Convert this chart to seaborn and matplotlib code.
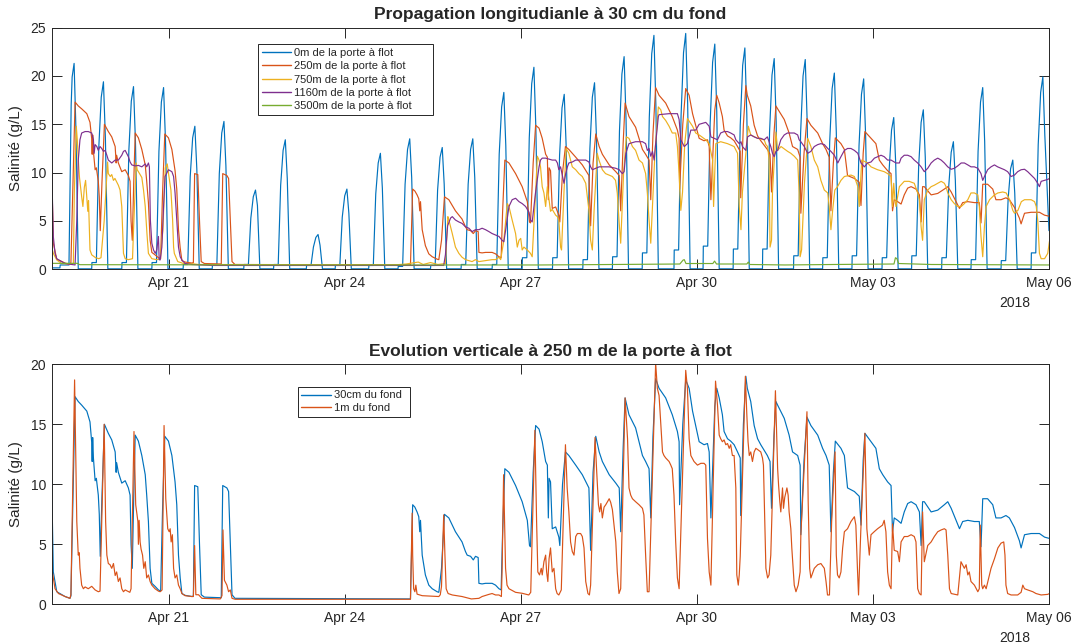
import pandas as pd
import numpy as np
import matplotlib
matplotlib.use('Agg')
import matplotlib.pyplot as plt
import matplotlib.dates as mdates
import seaborn as sns

# temps en heures depuis le 19/04/2018 00:00, salinité en g/L
debut = pd.Timestamp('2018-04-19')

# 1. Propagation longitudinale (30 cm du fond)
sal_0m = [
    (0, 0.15), (3.4, 0.15), (3.5, 0.45), (7.1, 0.45), (8.0, 17.0), (8.4, 19.9), (9.2, 21.3), (10.0, 14.0), (10.9, 0.05),
    (16.4, 0.05), (16.5, 0.7), (18.3, 0.7), (19.3, 12.6), (20.3, 17.8), (21.2, 19.4), (22.0, 13.6), (23.0, 0.05),
    (28.7, 0.05), (28.8, 0.7), (30.6, 0.7), (31.6, 12.3), (32.6, 17.4), (33.5, 18.9), (34.3, 13.2), (35.3, 0.05),
    (41.0, 0.05), (41.1, 0.7), (42.9, 0.7), (43.9, 12.2), (44.9, 17.3), (45.8, 18.8), (46.6, 13.2), (47.6, 0.05),
    (53.8, 0.05), (53.9, 0.5), (55.7, 0.5), (56.7, 9.6), (57.7, 13.6), (58.6, 14.8), (59.4, 10.4), (60.4, 0.05),
    (65.7, 0.05), (65.8, 0.5), (67.6, 0.5), (68.6, 9.9), (69.6, 14.1), (70.5, 15.3), (71.3, 10.7), (72.3, 0.05),
    (78.6, 0.05), (78.7, 0.5), (80.5, 0.5), (81.5, 5.3), (82.5, 7.5), (83.4, 8.2), (84.2, 6.6), (85.2, 0.05),
    (90.8, 0.05), (90.9, 0.5), (92.7, 0.5), (93.7, 8.7), (94.7, 12.3), (95.6, 13.4), (96.4, 9.4), (97.4, 0.05),
    (104.2, 0.05), (104.3, 0.4), (106.1, 0.4), (107.1, 2.3), (108.1, 3.3), (109.0, 3.6), (109.8, 2.5), (110.8, 0.05),
    (116.0, 0.05), (116.1, 0.4), (117.9, 0.4), (118.9, 5.4), (119.9, 7.6), (120.8, 8.3), (121.6, 5.8), (122.6, 0.05),
    (129.7, 0.05), (129.8, 0.4), (131.6, 0.4), (132.6, 7.8), (133.6, 11.0), (134.5, 12.0), (135.3, 8.4), (136.3, 0.05),
    (141.7, 0.05), (141.8, 0.3), (143.6, 0.3), (144.6, 8.8), (145.6, 12.4), (146.5, 13.5), (147.3, 9.5), (148.3, 0.05),
    (155.0, 0.05), (155.1, 0.4), (156.9, 0.4), (157.9, 8.2), (158.9, 11.6), (159.8, 12.6), (160.6, 8.8), (161.6, 0.05),
    (167.5, 0.05), (167.6, 0.5), (169.4, 0.5), (170.4, 8.8), (171.4, 12.4), (172.3, 13.5), (173.1, 9.5), (174.1, 0.05),
    (180.2, 0.05), (180.3, 0.5), (182.1, 0.5), (183.1, 11.9), (184.1, 16.8), (185.0, 18.3), (185.8, 12.8), (186.8, 0.05),
    (192.5, 0.05), (192.6, 1.2), (194.4, 1.2), (195.4, 13.6), (196.4, 19.2), (197.3, 20.9), (198.1, 14.6), (199.1, 0.05),
    (204.9, 0.05), (205.0, 1.2), (206.8, 1.2), (207.8, 11.8), (208.8, 16.7), (209.7, 18.1), (210.5, 12.7), (211.5, 0.05),
    (217.3, 0.05), (217.4, 1.0), (219.2, 1.0), (220.2, 12.5), (221.2, 17.8), (222.1, 19.3), (222.9, 13.5), (223.9, 0.05),
    (229.4, 0.05), (229.5, 1.3), (231.3, 1.3), (232.3, 14.3), (233.3, 20.2), (234.2, 22.0), (235.0, 15.4), (236.0, 0.05),
    (241.6, 0.05), (241.7, 1.7), (243.5, 1.7), (244.5, 15.7), (245.5, 22.3), (246.4, 24.2), (247.2, 16.9), (248.2, 0.05),
    (254.6, 0.05), (254.7, 2.0), (256.5, 2.0), (257.5, 15.9), (258.5, 22.4), (259.4, 24.4), (260.2, 17.1), (261.2, 0.05),
    (266.5, 0.05), (266.6, 2.4), (268.4, 2.4), (269.4, 15.1), (270.4, 21.4), (271.3, 23.3), (272.1, 16.3), (273.1, 0.05),
    (278.8, 0.05), (278.9, 2.1), (280.7, 2.1), (281.7, 14.9), (282.7, 21.1), (283.6, 22.9), (284.4, 16.0), (285.4, 0.05),
    (290.8, 0.05), (290.9, 2.1), (292.7, 2.1), (293.7, 14.2), (294.7, 20.1), (295.6, 21.8), (296.4, 15.3), (297.4, 0.05),
    (303.5, 0.05), (303.6, 1.4), (305.4, 1.4), (306.4, 14.1), (307.4, 20.0), (308.3, 21.7), (309.1, 15.2), (310.1, 0.05),
    (315.4, 0.05), (315.5, 1.2), (317.3, 1.2), (318.3, 13.2), (319.3, 18.7), (320.2, 20.3), (321.0, 14.2), (322.0, 0.05),
    (327.4, 0.05), (327.5, 1.4), (329.3, 1.4), (330.3, 12.8), (331.3, 18.1), (332.2, 19.7), (333.0, 13.8), (334.0, 0.05),
    (339.7, 0.05), (339.8, 1.2), (341.6, 1.2), (342.6, 10.2), (343.6, 14.4), (344.5, 15.7), (345.3, 11.0), (346.3, 0.05),
    (351.8, 0.05), (351.9, 1.4), (353.7, 1.4), (354.7, 10.7), (355.7, 15.2), (356.6, 16.5), (357.4, 11.6), (358.4, 0.05),
    (364.1, 0.05), (364.2, 1.2), (366.0, 1.2), (367.0, 8.6), (368.0, 12.1), (368.9, 13.2), (369.7, 9.2), (370.7, 0.05),
    (376.1, 0.05), (376.2, 1.0), (378.0, 1.0), (379.0, 12.2), (380.0, 17.3), (380.9, 18.8), (381.7, 13.2), (382.7, 0.05),
    (388.4, 0.05), (388.5, 0.9), (390.3, 0.9), (391.3, 7.3), (392.3, 10.4), (393.2, 11.3), (394.0, 7.9), (395.0, 0.05),
    (400.7, 0.05), (400.8, 1.7), (402.6, 1.7), (403.6, 12.9), (404.6, 18.3), (405.5, 19.9), (406.3, 13.9), (408.0, 4.0),
]

# 250 m, 30 cm du fond (même capteur dans les deux graphes)
sal_250m_30cm = [
    (0.0, 10.5), (0.7, 2.7), (2.1, 1.05), (5.5, 0.65), (7.5, 0.5), (7.9, 0.7), (9.6, 17.3), (10.9, 16.9),
    (12.3, 16.6), (14.4, 16.1), (15.7, 15.2), (16.4, 13.5), (16.6, 11.9), (16.8, 13.9), (17.1, 12.2), (17.8, 10.3),
    (18.3, 10.5), (19.1, 9.1), (19.5, 7.5), (19.9, 4.0), (20.6, 9.0), (21.6, 15.0), (23.2, 14.25), (24.6, 13.7),
    (26.0, 12.7), (26.4, 11.0), (26.6, 11.8), (27.3, 11.0), (28.7, 10.1), (30.1, 10.3), (31.4, 9.7), (32.1, 9.1),
    (32.5, 5.0), (33.0, 3.0), (33.6, 9.0), (34.2, 14.1), (35.5, 13.6), (36.9, 12.4), (38.3, 10.8), (38.9, 9.1),
    (39.6, 6.9), (40.3, 3.0), (41.0, 1.75), (42.3, 1.5), (43.7, 1.2), (44.6, 1.1), (45.4, 8.0), (46.3, 14.0),
    (47.8, 13.6), (49.2, 12.4), (50.5, 10.2), (51.2, 8.3), (51.9, 4.1), (52.6, 2.2), (53.3, 0.9), (54.6, 0.75),
    (57.4, 0.65), (58.0, 0.7), (58.5, 9.9), (59.8, 9.8), (60.5, 5.0), (61.2, 0.8), (62.5, 0.6), (69.4, 0.55),
    (70.0, 9.9), (71.7, 9.7), (72.4, 9.4), (73.1, 5.0), (73.8, 0.8), (75.0, 0.5), (146.8, 0.45),
    (147.7, 8.3), (148.6, 8.1), (149.5, 7.7), (150.2, 7.3), (150.6, 6.05), (150.9, 7.0), (151.6, 4.1), (152.9, 2.45),
    (154.3, 1.6), (155.7, 1.3), (157.7, 1.05), (158.4, 1.0), (159.5, 3.0), (160.7, 7.5), (162.5, 7.2), (165.2, 6.05),
    (167.9, 5.2), (169.3, 4.4), (170.0, 4.1), (171.4, 4.0), (172.5, 3.7), (173.4, 4.0), (174.5, 3.9), (174.8, 1.75),
    (176.1, 1.7), (177.5, 1.75), (180.2, 1.75), (181.6, 1.6), (183.0, 1.3), (183.9, 1.2), (184.5, 6.0), (185.4, 11.3),
    (187.1, 11.0), (189.8, 9.9), (192.5, 8.55), (194.6, 7.0), (195.5, 4.9), (195.9, 4.8), (197.0, 11.0), (198.0, 14.9),
    (199.4, 14.6), (200.7, 13.55), (202.1, 11.9), (202.8, 11.6), (203.2, 7.2), (203.5, 10.5), (204.1, 10.2), (204.8, 6.3),
    (206.2, 6.45), (207.5, 5.6), (207.9, 4.9), (209.0, 10.0), (210.2, 12.7), (211.6, 12.4), (214.4, 11.6), (217.1, 10.8),
    (219.8, 9.7), (220.5, 4.5), (221.5, 11.0), (222.6, 14.0), (224.0, 12.7), (225.3, 11.9), (228.1, 10.8), (230.8, 10.1),
    (232.2, 9.7), (232.8, 6.05), (233.8, 13.0), (234.6, 17.2), (236.2, 15.8), (238.9, 14.7), (241.7, 12.4), (243.0, 11.9),
    (244.4, 11.3), (245.1, 7.2), (246.0, 14.0), (247.1, 18.8), (248.5, 18.0), (251.2, 17.2), (253.9, 15.8), (256.0, 14.4),
    (256.7, 13.55), (256.9, 8.3), (258.2, 15.0), (259.4, 18.7), (260.8, 18.0), (262.2, 16.1), (264.9, 13.55), (266.9, 13.3),
    (268.3, 13.4), (269.0, 12.7), (269.7, 7.2), (271.3, 16.5), (272.1, 18.0), (273.1, 17.2), (274.4, 15.8), (275.1, 14.4),
    (276.5, 13.8), (277.8, 13.6), (279.2, 13.3), (280.6, 12.7), (281.7, 12.2), (281.9, 7.4), (283.0, 15.0), (284.0, 19.0),
    (284.6, 18.0), (286.0, 16.9), (287.4, 14.9), (288.8, 13.8), (290.1, 13.3), (292.8, 12.4), (293.9, 11.9), (294.5, 8.0),
    (295.5, 14.0), (296.3, 16.9), (297.0, 16.6), (299.7, 15.5), (301.7, 14.1), (303.1, 12.7), (305.2, 12.4), (306.2, 11.6),
    (306.5, 5.8), (307.8, 12.0), (309.0, 15.6), (310.6, 14.9), (313.4, 14.1), (315.4, 13.0), (316.8, 12.4), (318.1, 11.6),
    (318.8, 6.05), (319.8, 11.0), (320.6, 13.6), (322.9, 13.0), (324.3, 12.4), (325.6, 9.7), (328.4, 9.4), (330.4, 9.0),
    (331.1, 6.6), (332.0, 12.0), (332.7, 14.25), (335.2, 13.55), (337.2, 13.0), (338.6, 11.3), (340.0, 10.8), (342.0, 10.2),
    (343.4, 9.9), (344.0, 6.05), (344.7, 7.2), (346.1, 7.0), (347.5, 6.75), (348.8, 7.7), (350.2, 8.4), (351.6, 8.55),
    (353.6, 8.3), (355.0, 7.7), (355.7, 4.9), (356.3, 8.55), (357.0, 8.55), (359.8, 7.7), (362.5, 7.85), (365.2, 8.3),
    (366.6, 8.55), (368.0, 8.0), (370.0, 7.0), (371.4, 6.3), (372.7, 6.9), (374.8, 7.0), (377.5, 6.9), (379.5, 6.9),
    (380.2, 4.8), (380.9, 8.8), (382.9, 8.8), (385.0, 8.3), (386.3, 7.2), (388.4, 7.2), (390.4, 7.4), (391.8, 7.2),
    (393.9, 6.4), (395.9, 5.3), (396.6, 4.7), (398.0, 5.8), (400.7, 5.9), (404.1, 5.9), (406.2, 5.6), (408.0, 5.5),
]

sal_750m = [
    (0, 2.3), (0.7, 1.65), (2.1, 0.97), (4.1, 0.6), (6.9, 0.55), (8.9, 0.6), (9.3, 8.0), (10.1, 14.8),
    (10.5, 13.4), (11.0, 11.0), (11.4, 9.5), (12.3, 7.5), (12.8, 6.5), (13.4, 8.5), (13.9, 9.2), (14.8, 6.0),
    (15.1, 7.1), (15.7, 2.0), (16.4, 1.5), (18.0, 1.2), (19.3, 1.1), (20.2, 1.2), (21.5, 5.0), (22.9, 11.1),
    (23.2, 9.9), (24.0, 9.6), (24.6, 9.8), (25.3, 9.2), (25.9, 9.4), (27.3, 8.7), (28.0, 8.2), (28.7, 6.5),
    (29.0, 4.4), (29.4, 1.65), (30.1, 1.1), (31.4, 1.0), (33.1, 1.1), (33.5, 4.0), (34.6, 11.0), (35.0, 10.3),
    (35.5, 10.1), (36.9, 9.5), (37.6, 8.2), (38.3, 6.5), (39.0, 3.7), (39.6, 1.65), (41.0, 1.1), (43.0, 1.0),
    (44.4, 1.1), (45.5, 4.0), (46.5, 10.5), (47.3, 10.9), (48.0, 9.6), (48.8, 8.2), (49.5, 5.1), (49.9, 2.3),
    (50.2, 1.65), (51.6, 0.8), (54.0, 0.6), (57.0, 0.6), (60.0, 0.5), (140.0, 0.45), (145.0, 0.55), (150.0, 0.75),
    (152.0, 0.5), (155.0, 0.7), (158.0, 0.5), (161.1, 0.6), (162.1, 5.45), (162.5, 5.1), (163.9, 3.7), (165.2, 2.3),
    (166.6, 1.65), (167.9, 1.25), (169.3, 1.0), (172.0, 0.8), (173.4, 1.0), (174.8, 0.8), (177.5, 0.9), (180.2, 1.0),
    (181.6, 1.0), (183.0, 1.25), (183.7, 1.0), (185.0, 3.0), (186.4, 6.8), (187.1, 6.5), (188.4, 5.1), (189.8, 3.7),
    (190.5, 2.3), (191.2, 3.0), (191.9, 3.2), (192.5, 2.0), (193.2, 2.3), (194.6, 2.0), (195.9, 1.65), (196.6, 1.3),
    (198.0, 8.0), (198.7, 11.7), (199.4, 11.3), (200.0, 10.6), (200.7, 8.55), (201.4, 7.9), (202.1, 6.5), (202.8, 8.55),
    (203.5, 7.2), (204.1, 6.0), (204.8, 6.2), (206.2, 5.6), (206.9, 5.45), (207.5, 5.1), (208.2, 2.3), (208.6, 2.0),
    (209.6, 8.0), (210.5, 12.5), (211.6, 12.0), (213.0, 10.6), (214.4, 10.3), (215.7, 9.9), (217.1, 9.6), (218.5, 8.9),
    (219.8, 6.1), (220.5, 3.0), (221.2, 2.0), (221.9, 6.0), (223.2, 12.0), (223.9, 11.3), (225.3, 10.3), (226.6, 9.9),
    (228.0, 9.75), (229.4, 9.6), (230.7, 9.2), (231.4, 7.9), (232.1, 5.1), (232.8, 2.7), (234.0, 10.0), (235.1, 13.7),
    (236.2, 13.55), (237.6, 12.7), (238.9, 12.3), (240.3, 11.3), (241.7, 11.0), (243.0, 9.9), (243.7, 7.9), (244.4, 5.1),
    (245.1, 2.7), (246.8, 12.0), (248.2, 16.8), (249.2, 16.5), (249.9, 15.8), (251.2, 15.4), (252.6, 14.8), (253.9, 14.1),
    (255.3, 14.1), (256.0, 12.7), (256.7, 9.9), (257.4, 6.1), (258.1, 8.0), (259.0, 13.0), (260.1, 15.6), (262.2, 14.8),
    (263.5, 14.1), (264.9, 13.9), (267.6, 13.4), (269.0, 13.0), (270.4, 11.3), (270.8, 6.5), (271.7, 13.0), (273.7, 13.2),
    (276.5, 13.0), (279.2, 12.7), (280.6, 12.0), (281.3, 6.5), (282.0, 4.1), (282.6, 8.0), (285.0, 14.8), (286.0, 13.9),
    (288.8, 13.55), (291.5, 13.4), (292.2, 12.9), (292.9, 12.7), (293.5, 11.3), (293.9, 2.3), (294.5, 3.0), (294.9, 8.0),
    (296.3, 14.2), (297.0, 12.3), (298.4, 12.7), (301.1, 12.2), (302.4, 12.0), (303.8, 11.7), (305.2, 11.3), (305.8, 7.9),
    (306.2, 1.3), (306.8, 2.0), (308.0, 9.0), (309.3, 13.55), (310.6, 12.7), (312.0, 11.3), (313.4, 10.6), (314.7, 9.2),
    (316.1, 8.2), (317.5, 7.9), (318.1, 6.5), (318.8, 4.1), (319.5, 6.1), (320.4, 8.2), (321.5, 8.55), (322.9, 9.2),
    (324.3, 9.6), (327.0, 9.75), (328.4, 9.6), (329.8, 8.55), (330.4, 6.5), (331.4, 11.3), (333.8, 11.0), (335.2, 10.6),
    (337.9, 10.3), (340.6, 10.1), (342.0, 9.9), (343.4, 9.6), (344.0, 6.5), (344.5, 8.9), (345.0, 7.2), (345.4, 6.5),
    (346.8, 8.55), (348.8, 9.1), (350.8, 9.1), (352.9, 8.9), (354.3, 7.9), (355.0, 7.2), (355.7, 4.4), (356.3, 3.0),
    (357.0, 7.2), (358.4, 8.2), (359.8, 8.55), (361.1, 8.7), (362.5, 8.9), (363.9, 9.1), (365.2, 8.9), (365.9, 8.55),
    (366.6, 7.9), (368.0, 7.2), (369.3, 6.8), (370.7, 6.5), (372.1, 6.5), (373.4, 6.8), (374.8, 7.2), (376.1, 7.9),
    (377.5, 7.9), (378.9, 7.7), (379.5, 6.5), (380.2, 3.4), (380.9, 1.3), (381.6, 4.4), (382.3, 6.5), (383.7, 7.2),
    (385.7, 7.7), (387.1, 7.9), (389.1, 8.0), (390.5, 7.9), (391.9, 7.2), (393.2, 6.1), (393.9, 5.8), (395.3, 6.1),
    (396.7, 7.0), (398.0, 7.2), (400.7, 7.2), (402.1, 7.0), (402.8, 6.5), (403.4, 5.1), (404.1, 1.65), (404.8, 1.1),
    (406.2, 1.1), (407.5, 1.65), (408.2, 2.9),
]

sal_1160m = [
    (0, 10.8), (0.7, 3.4), (1.4, 1.65), (2.1, 1.1), (3.4, 0.9), (5.5, 0.6), (8.2, 0.5), (9.6, 0.45),
    (10.3, 5.1), (10.9, 11.3), (11.6, 13.4), (12.3, 14.1), (13.7, 14.25), (15.0, 14.25), (16.4, 14.1), (17.1, 13.4),
    (17.4, 12.0), (17.8, 12.9), (18.5, 12.7), (19.1, 12.3), (19.8, 12.7), (20.5, 12.5), (21.2, 12.2), (21.9, 12.3),
    (22.6, 11.8), (23.2, 11.3), (24.6, 11.0), (26.0, 11.3), (27.3, 11.3), (28.7, 11.8), (29.4, 12.2), (30.1, 12.3),
    (30.7, 12.0), (31.4, 11.65), (32.1, 11.1), (32.8, 10.8), (34.2, 10.7), (35.5, 10.75), (36.9, 10.6), (38.3, 10.9),
    (38.9, 10.6), (39.6, 11.0), (40.0, 10.6), (40.4, 5.1), (41.0, 2.7), (41.7, 2.0), (42.4, 1.65), (43.0, 2.0),
    (43.7, 3.4), (44.0, 1.0), (44.4, 0.97), (45.1, 2.3), (45.8, 6.5), (46.4, 9.6), (47.8, 10.3), (49.2, 10.1),
    (49.9, 9.6), (50.5, 7.9), (51.2, 5.1), (51.9, 2.3), (52.6, 1.3), (53.3, 0.97), (54.6, 0.6), (57.4, 0.5),
    (61.5, 0.45), (65.6, 0.4), (160.4, 0.4), (161.1, 1.5), (162.0, 4.5), (163.2, 5.3), (163.9, 5.45), (165.2, 5.1),
    (166.6, 4.9), (167.9, 4.75), (169.3, 4.4), (170.7, 4.25), (172.0, 3.9), (173.4, 4.1), (174.8, 4.1), (176.1, 4.25),
    (177.5, 4.1), (178.9, 3.9), (180.2, 3.7), (181.6, 3.55), (183.0, 3.4), (184.3, 3.0), (185.0, 2.85), (185.7, 4.0),
    (187.1, 6.5), (188.4, 7.2), (189.8, 7.35), (191.2, 7.0), (192.5, 6.8), (193.9, 6.5), (194.6, 6.2), (195.3, 5.9),
    (195.9, 5.1), (196.6, 4.9), (198.0, 8.0), (199.4, 10.6), (200.0, 11.3), (200.7, 11.5), (202.1, 11.5), (203.5, 11.4),
    (204.8, 11.3), (206.2, 11.3), (206.9, 11.0), (207.5, 10.3), (208.2, 10.6), (209.0, 9.6), (209.6, 8.9), (210.3, 9.9),
    (211.0, 10.6), (211.6, 11.0), (213.0, 11.1), (214.4, 11.3), (217.1, 11.3), (218.5, 11.3), (219.8, 11.1), (220.5, 10.6),
    (221.2, 10.3), (222.6, 10.45), (224.0, 10.6), (225.3, 10.6), (228.1, 10.6), (230.8, 10.45), (232.2, 10.3), (232.8, 10.1),
    (233.5, 9.9), (234.2, 10.1), (234.9, 12.0), (236.2, 13.0), (238.9, 13.2), (241.7, 13.2), (243.0, 13.0), (243.7, 12.3),
    (244.4, 12.5), (245.1, 11.7), (245.8, 12.2), (246.5, 11.3), (247.1, 13.0), (248.2, 15.8), (248.5, 16.0), (252.6, 16.1),
    (256.0, 16.1), (256.7, 15.5), (257.4, 13.4), (258.8, 12.7), (260.1, 13.0), (261.5, 14.4), (263.5, 14.4), (264.9, 15.0),
    (267.6, 15.2), (269.0, 14.8), (269.7, 13.7), (271.0, 13.55), (272.4, 13.4), (273.7, 14.1), (275.1, 14.25), (276.5, 14.25),
    (277.8, 14.1), (279.2, 13.9), (279.9, 13.4), (280.6, 13.2), (281.3, 13.0), (282.0, 13.2), (282.6, 12.7), (284.0, 12.3),
    (284.7, 13.7), (286.0, 13.9), (287.4, 13.7), (288.8, 13.55), (290.1, 13.55), (291.5, 13.4), (292.8, 13.7), (293.5, 13.2),
    (294.2, 12.7), (294.9, 12.0), (295.6, 11.65), (296.3, 12.2), (297.0, 12.3), (298.3, 13.4), (299.7, 13.9), (301.0, 14.1),
    (302.4, 14.1), (303.8, 14.1), (305.2, 13.9), (305.8, 13.4), (306.5, 13.2), (307.9, 12.7), (309.3, 12.0), (310.6, 12.2),
    (312.0, 12.7), (313.4, 12.9), (314.7, 13.0), (316.1, 12.9), (317.5, 12.5), (318.8, 12.2), (320.2, 11.8), (321.6, 11.0),
    (322.2, 11.3), (322.9, 11.65), (324.3, 12.3), (325.6, 12.5), (327.0, 12.5), (328.4, 12.3), (329.8, 12.0), (331.1, 11.0),
    (332.5, 10.6), (333.8, 11.0), (335.2, 11.1), (336.6, 11.5), (337.9, 11.65), (339.3, 11.8), (340.6, 11.65), (342.0, 11.3),
    (343.4, 11.3), (344.7, 11.1), (345.4, 11.0), (346.8, 11.0), (347.5, 11.5), (348.8, 11.8), (350.2, 11.8), (351.6, 11.65),
    (352.9, 11.3), (354.3, 11.0), (355.7, 10.6), (357.0, 10.1), (358.4, 10.45), (359.8, 11.0), (361.1, 11.3), (362.5, 11.5),
    (363.9, 11.3), (365.2, 11.0), (366.6, 10.6), (368.0, 10.35), (369.3, 10.45), (370.7, 10.7), (372.1, 11.0), (373.4, 11.0),
    (374.8, 10.8), (376.1, 10.6), (377.5, 10.6), (378.9, 10.45), (380.2, 9.9), (380.9, 9.2), (381.6, 9.6), (382.9, 10.3),
    (384.3, 10.6), (385.7, 10.8), (387.0, 10.6), (388.4, 10.45), (389.8, 10.3), (391.1, 10.1), (392.5, 9.6), (393.9, 9.75),
    (395.2, 10.1), (396.6, 10.3), (398.0, 10.35), (399.3, 10.1), (400.7, 9.75), (402.1, 9.4), (403.4, 8.9), (404.1, 8.55),
    (404.8, 9.1), (406.2, 9.2), (407.5, 9.3), (408.2, 9.4),
]

sal_3500m = [
    (0, 0.62), (10.5, 0.62), (11.5, 0.48), (100, 0.45), (200, 0.45), (230, 0.5), (257, 0.55), (258.3, 0.95),
    (258.8, 1.0), (259.5, 0.6), (270.5, 0.6), (271.2, 0.85), (272, 0.55), (284.4, 0.55), (285, 0.75), (285.6, 0.5),
    (300, 0.45), (320, 0.5), (344.6, 0.55), (345.2, 1.2), (345.8, 1.1), (346.5, 0.6), (360, 0.5), (408, 0.45),
]

# 2. Evolution verticale à 250 m : capteur à 1 m du fond
sal_250m_1m = [
    (0.0, 4.7), (0.3, 2.7), (1.4, 1.3), (2.8, 0.9), (5.5, 0.65), (7.5, 0.5), (7.9, 0.8), (9.4, 18.7),
    (10.3, 6.9), (10.7, 4.9), (10.9, 4.1), (11.3, 4.3), (11.6, 3.0), (12.3, 1.6), (13.0, 1.3), (13.7, 1.45),
    (15.0, 1.3), (16.4, 1.5), (17.8, 1.2), (19.1, 1.05), (19.8, 1.1), (21.5, 15.0), (22.1, 6.9), (22.6, 4.1),
    (23.2, 3.4), (23.9, 3.3), (24.6, 3.0), (25.3, 3.4), (26.0, 2.4), (26.6, 2.7), (27.3, 1.9), (28.0, 2.2),
    (28.7, 1.3), (29.4, 1.05), (30.1, 1.2), (32.0, 1.0), (32.5, 1.3), (33.7, 14.4), (34.4, 8.3), (35.3, 6.9),
    (35.5, 5.0), (35.8, 7.0), (36.2, 5.2), (36.6, 4.6), (37.2, 4.1), (37.7, 3.0), (38.3, 3.55), (38.9, 2.2),
    (39.6, 2.45), (40.3, 1.9), (41.0, 1.6), (42.3, 1.3), (43.7, 1.1), (44.4, 1.05), (45.2, 1.2), (46.0, 14.9),
    (46.7, 8.8), (47.5, 6.3), (48.1, 6.05), (48.5, 6.3), (48.9, 5.2), (49.4, 5.8), (49.9, 3.0), (50.5, 2.2),
    (51.2, 2.45), (51.9, 1.6), (52.6, 1.3), (53.3, 0.9), (54.6, 0.72), (57.4, 0.65), (58.0, 0.65), (58.5, 4.9),
    (59.0, 0.8), (60.1, 0.8), (61.5, 0.5), (69.0, 0.45), (69.7, 0.72), (70.1, 6.2), (70.7, 2.0), (71.7, 1.6),
    (72.4, 1.05), (73.1, 1.2), (73.8, 0.5), (75.1, 0.42), (146.8, 0.42), (147.5, 7.6), (147.7, 4.1), (148.1, 1.3),
    (148.6, 1.05), (149.0, 1.6), (149.5, 0.85), (151.6, 0.72), (158.4, 0.65), (159.0, 0.8), (159.5, 1.5), (160.4, 7.45),
    (160.9, 4.1), (161.4, 1.3), (162.2, 0.9), (163.9, 0.78), (167.9, 0.65), (171.7, 0.45), (174.8, 0.5), (176.1, 0.65),
    (178.9, 0.83), (180.2, 0.9), (181.6, 0.78), (183.0, 0.78), (184.0, 0.65), (184.3, 3.0), (184.9, 10.8), (185.7, 3.0),
    (186.3, 1.6), (187.1, 1.3), (189.8, 1.0), (192.5, 0.92), (195.2, 0.78), (196.0, 1.0), (197.7, 14.5), (198.4, 6.9),
    (198.9, 2.7), (199.6, 2.45), (200.3, 3.0), (200.7, 2.45), (201.4, 3.55), (202.1, 4.1), (202.5, 2.7), (203.0, 1.9),
    (203.5, 3.8), (204.1, 4.7), (204.8, 2.7), (205.5, 3.0), (206.2, 1.3), (206.8, 0.9), (207.5, 0.78), (208.5, 1.2),
    (210.2, 13.3), (210.9, 9.7), (211.6, 7.7), (212.3, 5.2), (213.0, 4.4), (213.7, 4.1), (214.4, 5.65), (215.1, 5.9),
    (216.4, 5.9), (217.1, 5.65), (217.8, 4.7), (218.5, 1.9), (219.4, 0.9), (220.0, 0.78), (220.5, 1.6), (222.3, 13.9),
    (223.0, 11.0), (223.7, 8.3), (224.2, 7.7), (224.7, 8.4), (225.3, 7.2), (226.0, 8.1), (226.7, 8.3), (228.1, 8.8),
    (228.7, 8.5), (229.4, 7.9), (230.8, 5.2), (231.4, 2.7), (232.1, 0.9), (232.8, 1.3), (234.6, 17.2), (235.6, 13.8),
    (236.2, 9.7), (236.9, 9.1), (237.6, 8.8), (238.9, 8.55), (240.3, 8.3), (241.7, 8.0), (242.3, 7.45), (243.0, 4.1),
    (243.7, 1.05), (244.4, 1.05), (247.1, 20.1), (247.8, 18.0), (248.5, 17.4), (249.9, 12.7), (250.5, 12.4), (251.2, 12.2),
    (252.6, 11.9), (253.3, 11.6), (253.9, 11.3), (254.6, 9.1), (255.3, 5.2), (256.0, 2.2), (256.7, 1.3), (259.4, 19.5),
    (260.1, 18.0), (260.8, 13.8), (261.5, 12.4), (262.8, 11.9), (264.2, 11.6), (265.6, 11.75), (266.9, 11.75), (267.6, 11.6),
    (268.3, 5.5), (269.0, 2.7), (269.7, 1.6), (271.6, 18.6), (272.4, 16.6), (273.1, 14.1), (273.7, 13.8), (274.4, 13.55),
    (275.1, 13.7), (275.8, 13.3), (276.5, 13.4), (277.2, 13.0), (277.8, 13.3), (278.5, 12.4), (279.2, 12.4), (279.9, 9.7),
    (280.3, 2.45), (280.9, 1.6), (281.3, 2.45), (281.7, 4.0), (283.8, 19.0), (284.4, 15.8), (284.9, 13.55), (285.4, 12.4),
    (286.0, 12.7), (286.7, 11.9), (287.4, 12.7), (288.1, 13.0), (288.8, 12.9), (290.1, 12.7), (290.8, 12.2), (291.2, 11.6),
    (291.5, 9.1), (292.2, 3.0), (292.9, 2.2), (293.5, 2.45), (294.2, 4.1), (296.1, 17.8), (297.0, 11.3), (297.4, 9.9),
    (297.9, 8.55), (298.3, 7.7), (299.0, 9.7), (299.4, 8.0), (299.9, 8.9), (300.8, 9.7), (301.3, 9.1), (301.7, 7.7),
    (302.4, 6.3), (302.8, 4.7), (303.1, 3.8), (303.8, 1.6), (304.5, 1.05), (305.4, 1.6), (306.2, 2.7), (306.5, 5.8),
    (309.0, 16.05), (309.5, 8.55), (310.1, 3.0), (310.6, 2.2), (312.0, 3.0), (313.4, 3.3), (314.7, 3.4), (316.1, 3.0),
    (316.8, 1.9), (317.4, 0.78), (318.2, 0.78), (319.1, 6.9), (320.5, 12.7), (321.0, 4.1), (321.5, 2.45), (322.2, 2.2),
    (322.9, 2.7), (323.6, 4.7), (324.3, 6.05), (325.6, 6.3), (327.0, 6.9), (328.4, 7.3), (329.0, 6.6), (329.7, 2.7),
    (330.1, 0.78), (331.0, 6.0), (332.7, 14.25), (333.5, 6.3), (334.5, 4.1), (335.2, 5.8), (336.5, 6.05), (337.9, 6.3),
    (339.9, 6.6), (340.6, 7.0), (341.3, 6.05), (342.0, 2.7), (342.7, 1.6), (343.4, 1.3), (344.0, 6.7), (344.7, 4.5),
    (346.1, 4.4), (346.8, 3.55), (347.5, 5.2), (348.8, 5.65), (350.2, 5.65), (351.6, 5.8), (352.9, 5.65), (353.6, 5.2),
    (354.3, 1.3), (355.0, 0.9), (355.7, 0.78), (356.3, 7.7), (357.0, 3.55), (358.4, 4.9), (359.8, 5.2), (361.1, 5.65),
    (362.5, 6.05), (363.9, 6.2), (365.2, 6.3), (365.9, 6.2), (366.6, 4.1), (367.3, 1.3), (368.0, 0.9), (370.7, 0.78),
    (372.0, 3.55), (373.4, 3.0), (374.1, 3.3), (374.8, 2.45), (375.4, 2.7), (376.1, 1.9), (377.5, 1.6), (378.9, 1.05),
    (379.5, 1.3), (379.9, 6.6), (380.5, 1.6), (380.9, 1.3), (381.6, 1.6), (382.3, 1.3), (383.0, 1.9), (384.3, 3.0),
    (385.7, 3.8), (387.1, 4.7), (388.4, 5.1), (389.5, 5.2), (390.0, 4.1), (390.4, 1.6), (391.1, 0.9), (392.5, 0.78),
    (395.2, 0.78), (396.6, 1.0), (397.3, 1.6), (398.0, 1.3), (399.3, 1.2), (401.4, 1.05), (402.7, 0.9), (404.8, 0.78),
    (407.5, 0.83), (408.2, 0.9),
]

noms_haut = ['0m de la porte à flot', '250m de la porte à flot', '750m de la porte à flot',
             '1160m de la porte à flot', '3500m de la porte à flot']
noms_bas = ['30cm du fond', '1m du fond']
couleurs = ['#0072BD', '#D95319', '#EDB120', '#7E2F8E', '#77AC30']


def serie(points, nom):
    h, v = zip(*points)
    return pd.DataFrame({'date': debut + pd.to_timedelta(list(h), unit='h'),
                         'sal': list(v), 'serie': nom})


df_haut = pd.concat([serie(p, n) for p, n in zip(
    [sal_0m, sal_250m_30cm, sal_750m, sal_1160m, sal_3500m], noms_haut)], ignore_index=True)
df_bas = pd.concat([serie(sal_250m_30cm, noms_bas[0]), serie(sal_250m_1m, noms_bas[1])],
                   ignore_index=True)

sns.set_style('ticks')
plt.rcParams['font.family'] = ['Liberation Sans', 'DejaVu Sans']
gris = '#262626'

fig = plt.figure(figsize=(10.73, 6.44), dpi=100)
ax1 = fig.add_axes([0.0481, 0.5818, 0.9295, 0.3753])
ax2 = fig.add_axes([0.0481, 0.0616, 0.9295, 0.3727])

sns.lineplot(data=df_haut, x='date', y='sal', hue='serie', hue_order=noms_haut,
             palette=couleurs, linewidth=0.85, estimator=None, sort=False, ax=ax1)
sns.lineplot(data=df_bas, x='date', y='sal', hue='serie', hue_order=noms_bas,
             palette=couleurs[:2], linewidth=0.85, estimator=None, sort=False, ax=ax2)

titres = ['Propagation longitudianle à 30 cm du fond',
          'Evolution verticale à 250 m de la porte à flot']
for ax, titre, ymax in [(ax1, titres[0], 25), (ax2, titres[1], 20)]:
    ax.set_xlim(debut, debut + pd.Timedelta(days=17))
    ax.set_xticks(list(pd.date_range('2018-04-21', periods=6, freq='3D').to_pydatetime()))
    ax.xaxis.set_major_formatter(mdates.DateFormatter('%b %d'))
    ax.set_ylim(0, ymax)
    ax.set_yticks(np.arange(0, ymax + 1, 5))
    ax.tick_params(direction='in', top=True, right=True, length=7, width=0.7,
                   colors=gris, labelsize=10)
    ax.tick_params(axis='x', pad=5)
    ax.tick_params(axis='y', pad=4)
    for s in ax.spines.values():
        s.set_color(gris)
        s.set_linewidth(0.7)
    ax.set_xlabel('')
    ax.set_ylabel('Salinité (g/L)', fontsize=11, color=gris, labelpad=5)
    ax.set_title(titre, fontsize=12.5, fontweight='bold', pad=6)
    ax.text(0.981, -0.14, '2018', transform=ax.transAxes, ha='right', va='center',
            fontsize=10, color=gris)

# légendes : boîte élargie (mode expand) comme dans la figure d'origine
sns.move_legend(ax1, 'upper left', bbox_to_anchor=(0.207, 0.5, 0.1755, 0.432), mode='expand',
                title=None, frameon=True, fancybox=False, framealpha=1, edgecolor=gris,
                fontsize=8, borderaxespad=0, borderpad=0.35, labelspacing=0.3,
                handlelength=2.6, handletextpad=0.25)
sns.move_legend(ax2, 'upper left', bbox_to_anchor=(0.247, 0.5, 0.1123, 0.405), mode='expand',
                title=None, frameon=True, fancybox=False, framealpha=1, edgecolor=gris,
                fontsize=8, borderaxespad=0, borderpad=0.3, labelspacing=0.25,
                handlelength=2.7, handletextpad=0.2)
for ax in (ax1, ax2):
    leg = ax.get_legend()
    leg.get_frame().set_linewidth(0.7)
    for ln in leg.get_lines():
        ln.set_linewidth(1.0)

fig.savefig('out.png', dpi=100)
